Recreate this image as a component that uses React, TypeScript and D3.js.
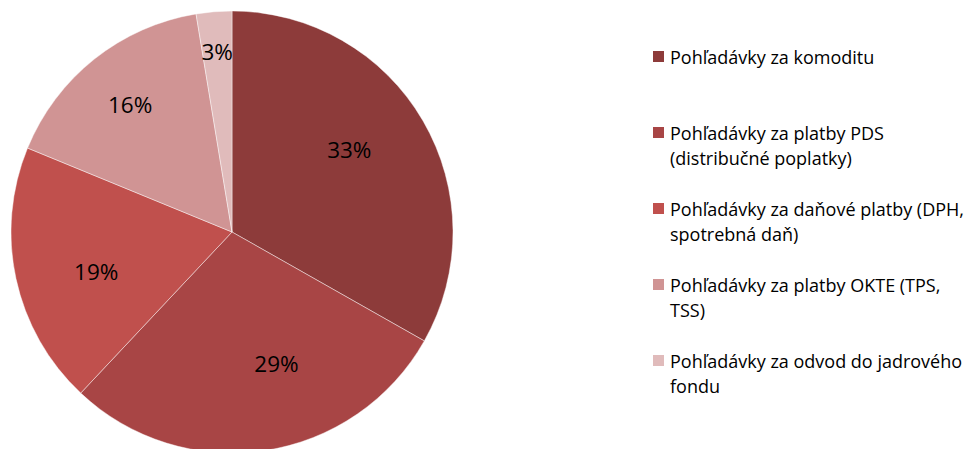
import React from "react";
import * as d3 from "d3";

const categories = [
  "Pohľadávky za komoditu",
  "Pohľadávky za platby PDS (distribučné poplatky)",
  "Pohľadávky za daňové platby (DPH, spotrebná daň)",
  "Pohľadávky za platby OKTE (TPS, TSS)",
  "Pohľadávky za odvod do jadrového fondu",
];
const legendLines = [
  ["Pohľadávky za komoditu"],
  ["Pohľadávky za platby PDS", "(distribučné poplatky)"],
  ["Pohľadávky za daňové platby (DPH,", "spotrebná daň)"],
  ["Pohľadávky za platby OKTE (TPS,", "TSS)"],
  ["Pohľadávky za odvod do jadrového", "fondu"],
];
const values = [33.2, 28.8, 19.2, 16.2, 2.6];
const valueLabels = ["33%", "29%", "19%", "16%", "3%"];
const colors = ["#8d3b3a", "#a84545", "#c0504d", "#d09494", "#e0bbbb"];

// label placement tweaks (layout only)
const labelAngleNudge = [-5, -10, -4, 0, 0];
const labelRadiusFactor = [0.65, 0.63, 0.64, 0.74, 0.82];

const W = 976;
const H = 449;
const cx = 232;
const cy = 232;
const R = 221;

export default function App() {
  const pie = d3.pie<number>().sort(null).value((d) => d);
  const arcs = pie(values);
  const arc = d3.arc<d3.PieArcDatum<number>>().innerRadius(0).outerRadius(R);
  const legendX = 653;
  const legendY0 = 57;
  const legendStep = 76;
  const lineH = 25;
  return (
    <svg
      width={W}
      height={H}
      style={{ position: "absolute", left: 0, top: 0, background: "#fff" }}
      fontFamily="'Open Sans', sans-serif"
    >
      <g transform={`translate(${cx},${cy})`}>
        {arcs.map((a, i) => (
          <path
            key={categories[i]}
            d={arc(a) || ""}
            fill={colors[i]}
            stroke="#ffffff"
            strokeOpacity={0.55}
            strokeWidth={0.8}
          />
        ))}
        {arcs.map((a, i) => {
          const mid = (a.startAngle + a.endAngle) / 2 + (labelAngleNudge[i] * Math.PI) / 180;
          const r = R * labelRadiusFactor[i];
          const x = Math.sin(mid) * r;
          const y = -Math.cos(mid) * r;
          return (
            <text
              key={"l" + i}
              x={x}
              y={y}
              textAnchor="middle"
              dominantBaseline="central"
              fontSize={22.5}
              fill="#000"
            >
              {valueLabels[i]}
            </text>
          );
        })}
      </g>
      {legendLines.map((lines, i) => {
        const y = legendY0 + i * legendStep;
        return (
          <g key={"g" + i}>
            <rect x={legendX} y={y - 6} width={11} height={11} fill={colors[i]} />
            {lines.map((t, j) => (
              <text
                key={j}
                x={legendX + 17}
                y={y + j * lineH}
                dominantBaseline="central"
                fontSize={18}
                fill="#000"
              >
                {t}
              </text>
            ))}
          </g>
        );
      })}
    </svg>
  );
}
